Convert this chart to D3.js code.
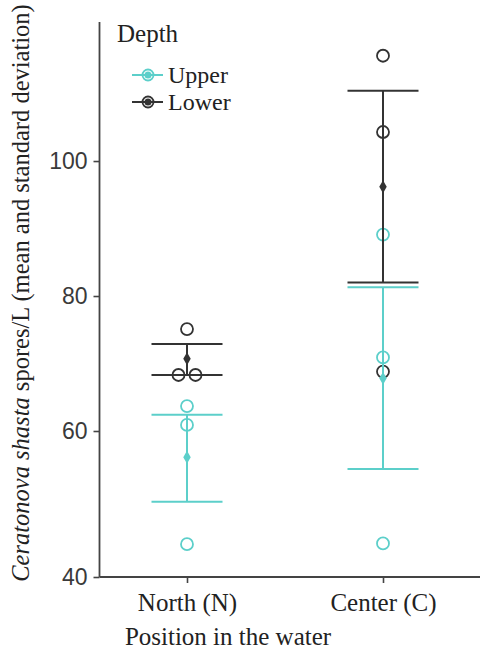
<!DOCTYPE html>
<html><head><meta charset="utf-8">
<script src="https://cdn.jsdelivr.net/npm/d3@7"></script>
<style>body{margin:0;background:#fff}</style>
</head><body>
<script>
const positions = ["North (N)", "Center (C)"];
const depths = ["Upper", "Lower"];
const upperPoints = [[63.7, 60.9, 44.5], [89.1, 70.9, 44.6]];
const lowerPoints = [[75.1, 68.3, 68.3], [115.6, 104.3, 68.8]];
const upperMean = [56.4, 67.8];
const upperLow = [50.3, 54.8];
const upperHigh = [62.4, 81.3];
const lowerMean = [70.7, 96.2];
const lowerLow = [68.3, 82.0];
const lowerHigh = [72.9, 110.4];
const yTicks = [40, 60, 80, 100];

const W = 486, H = 657;
const colors = {Upper: "#5ccfca", Lower: "#333333"};
const serif = "Liberation Serif";

const svg = d3.select("body").append("svg").attr("width", W).attr("height", H);

const y = d3.scaleLinear().domain([40, 60, 120.6]).range([577, 431, 22]);
const x = d3.scalePoint().domain(positions).range([187, 383]);
const axisLeft = 99.5, axisRight = 480;

// y axis
const ya = svg.append("g").attr("transform", `translate(${axisLeft},0)`)
  .call(d3.axisLeft(y).tickValues(yTicks).tickSize(6).tickPadding(6).tickFormat(d3.format("d")));
ya.select(".domain").remove();
ya.selectAll(".tick line").attr("stroke", "#444").attr("stroke-width", 1.6);
ya.selectAll(".tick text").attr("font-family", "Liberation Sans")
  .attr("font-size", 23).attr("fill", "#3a3a3a");
svg.append("line").attr("x1", axisLeft).attr("x2", axisLeft).attr("y1", y.range()[2]).attr("y2", y(40))
  .attr("stroke", "#444").attr("stroke-width", 1.8);

// x axis
const xa = svg.append("g").attr("transform", `translate(0,${y(40)})`)
  .call(d3.axisBottom(x).tickSize(6).tickPadding(10));
xa.select(".domain").remove();
xa.selectAll(".tick line").attr("stroke", "#444").attr("stroke-width", 1.6);
xa.selectAll(".tick text").attr("font-family", serif).attr("font-size", 25).attr("fill", "#222");
svg.append("line").attr("x1", axisLeft).attr("x2", axisRight).attr("y1", y(40)).attr("y2", y(40))
  .attr("stroke", "#444").attr("stroke-width", 1.8);

// axis titles
svg.append("text").attr("x", 228).attr("y", 645).attr("text-anchor", "middle")
  .attr("font-family", serif).attr("font-size", 25).attr("fill", "#222").text("Position in the water");
const yt = svg.append("text").attr("transform", "translate(29,293) rotate(-90)").attr("text-anchor", "middle")
  .attr("font-family", serif).attr("font-size", 24.5).attr("fill", "#222");
yt.append("tspan").attr("font-style", "italic").text("Ceratonova shasta");
yt.append("tspan").text(" spores/L (mean and standard deviation)");

// data groups
const r = 6;
function dodge(vals) {
  return vals.map((v, i) => {
    const near = w => Math.abs(y(w) - y(v)) < 2 * r;
    const k = vals.filter(near).length;
    const idx = vals.slice(0, i).filter(near).length;
    return (idx - (k - 1) / 2) * (2 * r + 5);
  });
}
const groups = [];
positions.forEach((p, i) => {
  groups.push({pos: p, depth: "Upper", pts: upperPoints[i], mean: upperMean[i], lo: upperLow[i], hi: upperHigh[i]});
  groups.push({pos: p, depth: "Lower", pts: lowerPoints[i], mean: lowerMean[i], lo: lowerLow[i], hi: lowerHigh[i]});
});

// points
groups.forEach(g => {
  const offs = dodge(g.pts);
  svg.append("g").selectAll("circle").data(g.pts).join("circle")
    .attr("cx", (d, i) => x(g.pos) + offs[i]).attr("cy", d => y(d)).attr("r", r)
    .attr("fill", "none").attr("stroke", colors[g.depth]).attr("stroke-width", 1.8);
});
// error bars + means
const capHalf = 35.5;
groups.forEach(g => {
  const c = colors[g.depth], cx = x(g.pos);
  const eg = svg.append("g").attr("stroke", c).attr("stroke-width", 2);
  eg.append("line").attr("x1", cx).attr("x2", cx).attr("y1", y(g.lo)).attr("y2", y(g.hi));
  [g.lo, g.hi].forEach(v => eg.append("line").attr("x1", cx - capHalf).attr("x2", cx + capHalf)
    .attr("y1", y(v)).attr("y2", y(v)));
  svg.append("path").attr("d", d3.symbol(d3.symbolDiamond, 48)())
    .attr("transform", `translate(${cx},${y(g.mean)})`).attr("fill", c);
});

// legend
const lg = svg.append("g");
lg.append("text").attr("x", 117).attr("y", 42).attr("font-family", serif).attr("font-size", 25)
  .attr("fill", "#222").text("Depth");
depths.forEach((d, i) => {
  const ly = 75 + i * 27;
  lg.append("line").attr("x1", 132).attr("x2", 163).attr("y1", ly).attr("y2", ly)
    .attr("stroke", colors[d]).attr("stroke-width", 2);
  lg.append("circle").attr("cx", 148).attr("cy", ly).attr("r", 5.5).attr("fill", "none")
    .attr("stroke", colors[d]).attr("stroke-width", 1.8);
  lg.append("circle").attr("cx", 148).attr("cy", ly).attr("r", 3.5).attr("fill", colors[d]);
  lg.append("text").attr("x", 168).attr("y", ly + 8).attr("font-family", serif).attr("font-size", 24)
    .attr("fill", "#222").text(d);
});
</script>
</body></html>
